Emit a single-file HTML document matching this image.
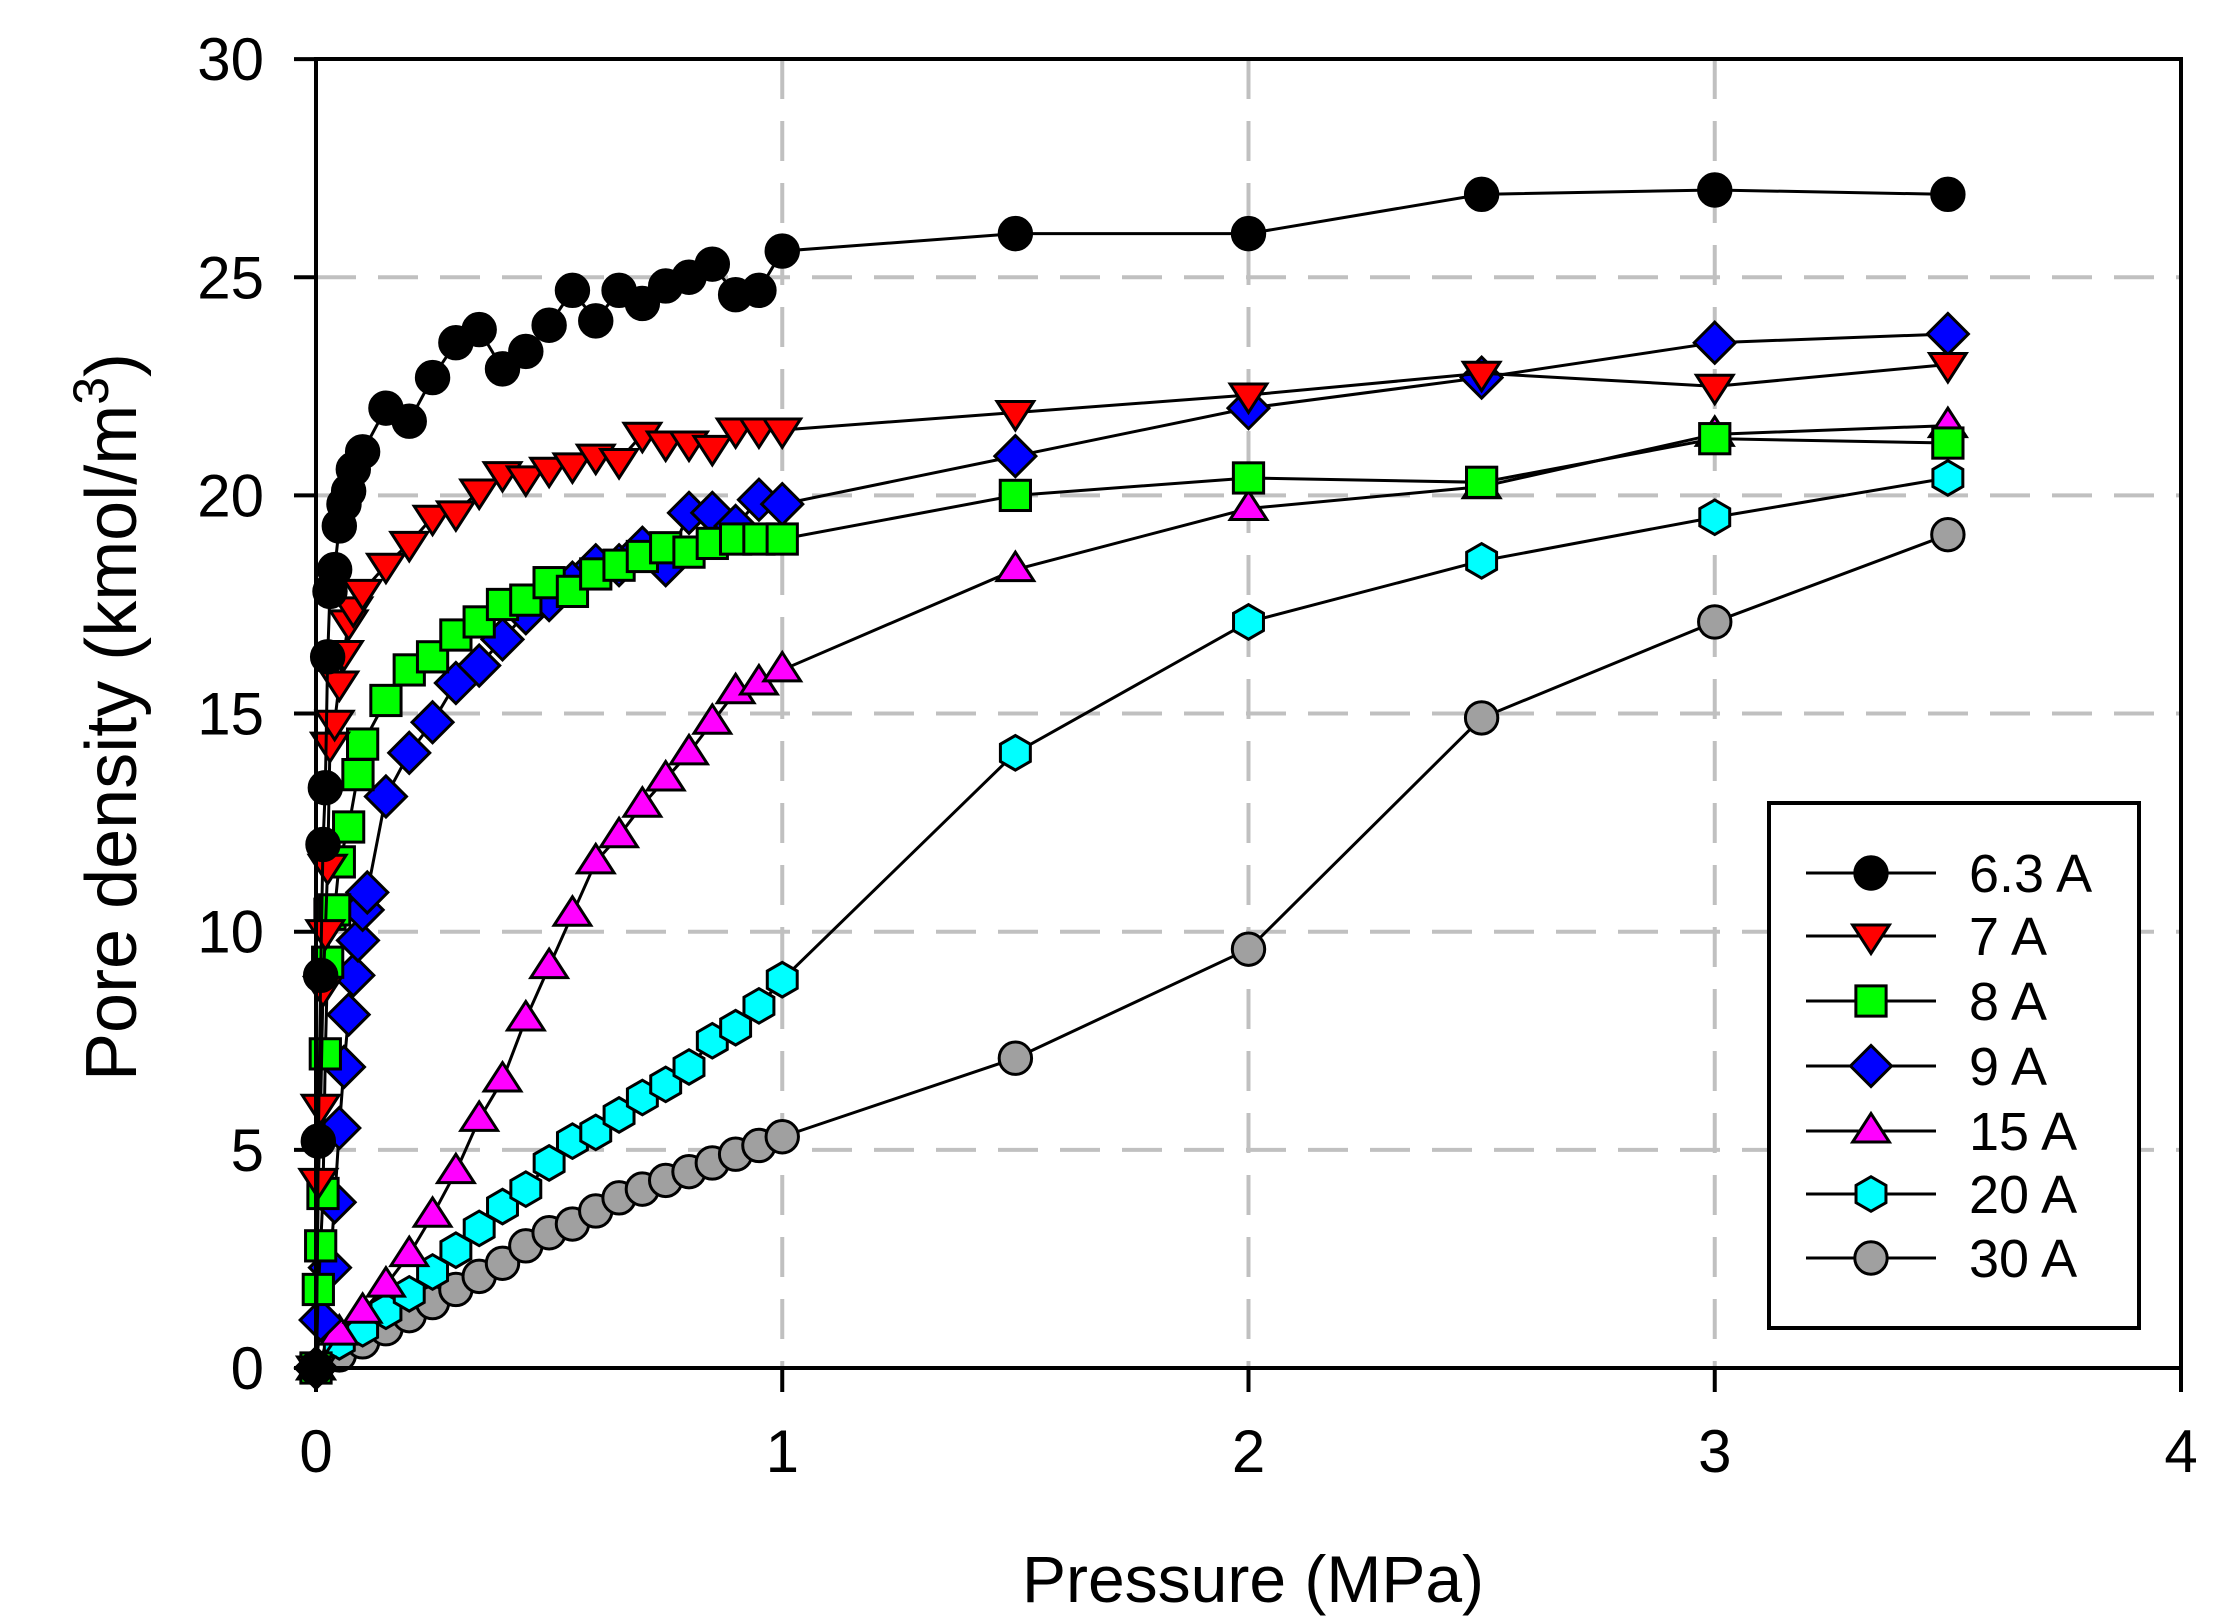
<!DOCTYPE html>
<html><head><meta charset="utf-8"><style>html,body{margin:0;padding:0;background:#fff}svg{display:block}</style></head>
<body>
<svg id="s" width="2239" height="1624" viewBox="0 0 2239 1624" xmlns="http://www.w3.org/2000/svg" font-family="Liberation Sans, Arial, sans-serif">
<g id="grid" stroke="#c0c0c0" stroke-width="4" stroke-dasharray="40,22" fill="none"></g>
<g id="series"></g>
<g stroke="#000" stroke-width="4" fill="none">
<rect x="316" y="59" width="1865" height="1309"/>
</g>
<g id="ticks" stroke="#000" stroke-width="4"></g>
<g id="labels" font-size="60" fill="#000"></g>
<text x="1253" y="1602" font-size="66" text-anchor="middle">Pressure (MPa)</text>
<text transform="translate(136,717) rotate(-90)" font-size="72" text-anchor="middle">Pore density (kmol/m<tspan baseline-shift="super" font-size="50">3</tspan>)</text>
<g id="legend"></g>
</svg>
<script>
const NS="http://www.w3.org/2000/svg";
const X0=316,XS=466.25,Y0=1368,YS=43.63;
const px=x=>X0+x*XS, py=y=>Y0-y*YS;
function el(t,a,p){const e=document.createElementNS(NS,t);for(const k in a)e.setAttribute(k,a[k]);(p||document.getElementById('series')).appendChild(e);return e;}
const grid=document.getElementById('grid'),ticks=document.getElementById('ticks'),labels=document.getElementById('labels');
for(let v=5;v<30;v+=5)el('line',{x1:316,x2:2181,y1:py(v),y2:py(v)},grid);
for(let v=1;v<4;v++)el('line',{x1:px(v),x2:px(v),y1:59,y2:1368},grid);
for(let v=0;v<=30;v+=5){el('line',{x1:294,x2:316,y1:py(v),y2:py(v)},ticks);const t=el('text',{x:264,y:py(v)+21,'text-anchor':'end'},labels);t.textContent=v;}
for(let v=0;v<=4;v++){el('line',{x1:px(v),x2:px(v),y1:1368,y2:1392},ticks);const t=el('text',{x:px(v),y:1472,'text-anchor':'middle'},labels);t.textContent=v;}
function marker(type,x,y,fill,p,s){s=s||1.08;const a={fill:fill,stroke:'#000','stroke-width':3};let e;
 if(type=='c'){a.cx=x;a.cy=y;a.r=15*s;e=el('circle',a,p);}
 else if(type=='td'){const r=17*s;a.points=`${x-r},${y-r*0.6} ${x+r},${y-r*0.6} ${x},${y+r*0.95}`;e=el('polygon',a,p);}
 else if(type=='tu'){const r=17*s;a.points=`${x-r},${y+r*0.6} ${x+r},${y+r*0.6} ${x},${y-r*0.95}`;e=el('polygon',a,p);}
 else if(type=='sq'){const r=14*s;a.x=x-r;a.y=y-r;a.width=2*r;a.height=2*r;e=el('rect',a,p);}
 else if(type=='dm'){const r=19*s;a.points=`${x},${y-r} ${x+r},${y} ${x},${y+r} ${x-r},${y}`;e=el('polygon',a,p);}
 else if(type=='hx'){const r=16*s;let pts=[];for(let i=0;i<6;i++){const an=Math.PI/6+i*Math.PI/3;pts.push((x+r*Math.cos(an))+','+(y+r*Math.sin(an)));}a.points=pts.join(' ');e=el('polygon',a,p);}
}
const xa=[0,0.005,0.01,0.015,0.02,0.025,0.03,0.04,0.05,0.06,0.07,0.08,0.1,0.15,0.2,0.25,0.3,0.35,0.4,0.45,0.5,0.55,0.6,0.65,0.7,0.75,0.8,0.85,0.9,0.95,1,1.5,2,2.5,3,3.5];
const S=[
{n:'30 A',t:'c',f:'#a0a0a0',x:[0,0.05,0.1,0.15,0.2,0.25,0.3,0.35,0.4,0.45,0.5,0.55,0.6,0.65,0.7,0.75,0.8,0.85,0.9,0.95,1,1.5,2,2.5,3,3.5],
 y:[0,0.3,0.6,0.9,1.2,1.5,1.8,2.1,2.4,2.8,3.1,3.3,3.6,3.9,4.1,4.3,4.5,4.7,4.9,5.1,5.3,7.1,9.6,14.9,17.1,19.1]},
{n:'20 A',t:'hx',f:'#00ffff',x:[0,0.05,0.1,0.15,0.2,0.25,0.3,0.35,0.4,0.45,0.5,0.55,0.6,0.65,0.7,0.75,0.8,0.85,0.9,0.95,1,1.5,2,2.5,3,3.5],
 y:[0,0.6,0.9,1.3,1.7,2.2,2.7,3.2,3.7,4.1,4.7,5.2,5.4,5.8,6.2,6.5,6.9,7.5,7.8,8.3,8.9,14.1,17.1,18.5,19.5,20.4]},
{n:'15 A',t:'tu',f:'#ff00ff',x:[0,0.05,0.1,0.15,0.2,0.25,0.3,0.35,0.4,0.45,0.5,0.55,0.6,0.65,0.7,0.75,0.8,0.85,0.9,0.95,1,1.5,2,2.5,3,3.5],
 y:[0,0.8,1.3,1.9,2.6,3.5,4.5,5.7,6.6,8,9.2,10.4,11.6,12.2,12.9,13.5,14.1,14.8,15.5,15.7,16,18.3,19.7,20.2,21.4,21.6]},
{n:'9 A',t:'dm',f:'#0000ff',x:[0,0.01,0.03,0.04,0.05,0.06,0.07,0.08,0.09,0.1,0.11,0.15,0.2,0.25,0.3,0.35,0.4,0.45,0.5,0.55,0.6,0.65,0.7,0.75,0.8,0.85,0.9,0.95,1,1.5,2,2.5,3,3.5],
 y:[0,1.1,2.3,3.8,5.5,6.9,8.1,9,9.8,10.5,10.9,13.1,14.1,14.8,15.7,16.1,16.7,17.3,17.6,18,18.4,18.4,18.8,18.4,19.6,19.6,19.3,19.9,19.8,20.9,22,22.7,23.5,23.7]},
{n:'8 A',t:'sq',f:'#00ff00',x:[0,0.005,0.01,0.015,0.02,0.025,0.03,0.04,0.05,0.07,0.09,0.1,0.15,0.2,0.25,0.3,0.35,0.4,0.45,0.5,0.55,0.6,0.65,0.7,0.75,0.8,0.85,0.9,0.95,1,1.5,2,2.5,3,3.5],
 y:[0,1.8,2.8,4,7.2,9.3,10.4,10.5,11.6,12.4,13.6,14.3,15.3,16,16.3,16.8,17.1,17.5,17.6,18,17.8,18.2,18.4,18.6,18.8,18.7,18.9,19,19,19,20,20.4,20.3,21.3,21.2]},
{n:'7 A',t:'td',f:'#ff0000',x:xa,
 y:[0,4.3,6,8.7,10,11.5,14.3,14.8,15.7,16.4,17.1,17.4,17.8,18.4,18.9,19.5,19.6,20.1,20.5,20.4,20.6,20.7,20.9,20.8,21.4,21.2,21.2,21.1,21.5,21.5,21.5,21.9,22.3,22.8,22.5,23]},
{n:'6.3 A',t:'c',f:'#000000',x:xa,
 y:[0,5.2,9,12,13.3,16.3,17.8,18.3,19.3,19.8,20.1,20.6,21,22,21.7,22.7,23.5,23.8,22.9,23.3,23.9,24.7,24,24.7,24.4,24.8,25,25.3,24.6,24.7,25.6,26,26,26.9,27,26.9]}
];
for(const s of S){el('polyline',{points:s.x.map((x,i)=>px(x)+','+py(s.y[i])).join(' '),fill:'none',stroke:'#000','stroke-width':3});
 s.x.forEach((x,i)=>marker(s.t,px(x),py(s.y[i]),s.f));}
const lg=document.getElementById('legend');
el('rect',{x:1769,y:803,width:370,height:525,fill:'#fff',stroke:'#000','stroke-width':4},lg);
const order=[6,5,4,3,2,1,0];const ly=[873,936,1001,1066,1131,1194,1258];
order.forEach((k,i)=>{const s=S[k];el('line',{x1:1806,x2:1936,y1:ly[i],y2:ly[i],stroke:'#000','stroke-width':3},lg);
 marker(s.t,1871,ly[i],s.f,lg);const t=el('text',{x:1969,y:ly[i]+19,'font-size':54},lg);t.textContent=s.n;});
</script>
</body></html>
